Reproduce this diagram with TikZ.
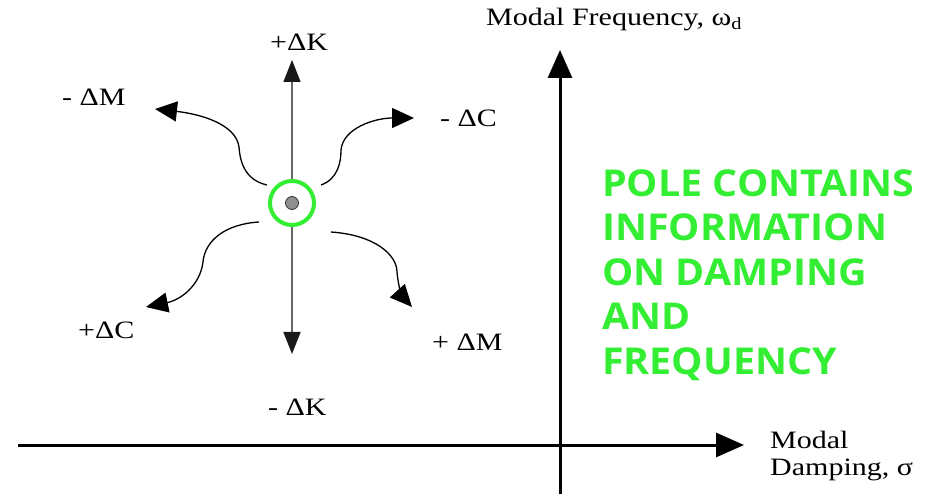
\documentclass[tikz,border=0pt]{standalone}
\usepackage{fontspec}
\setmainfont{Liberation Serif}
\newfontfamily\greenfont{Open Sans}
\usetikzlibrary{arrows.meta}
\definecolor{poleGreen}{HTML}{33EE33}
\definecolor{dotGray}{HTML}{909090}
\newcommand{\wtxt}[1]{\scalebox{1.2}[1]{#1}}
\newcommand{\gtxt}[1]{\scalebox{1.065}[1]{#1}}
\tikzset{
  lbl/.style={font=\fontsize{25}{28}\selectfont, inner sep=0pt, anchor=west},
  curvearrow/.style={line width=1.3pt, -{Triangle[length=22pt,width=20pt]}},
  karrow/.style={line width=1.6pt, draw=black!60, -{Triangle[length=22pt,width=17pt,color=black!90]}},
  axis/.style={line width=3pt, -{Triangle[length=28pt,width=24pt]}}
}
\begin{document}
\begin{tikzpicture}[x=1pt,y=-1pt]
\useasboundingbox (0,0) rectangle (927,494);
% axes
\coordinate (hstart) at (18,445);
\coordinate (hend) at (744,445);
\coordinate (vstart) at (560,494);
\coordinate (vend) at (560,50);
\draw[axis] (hstart) -- (hend);
\draw[axis] (vstart) -- (vend);
% pole
\node[circle, draw=poleGreen, line width=4pt, minimum size=44pt, inner sep=0pt] (ring) at (292,203) {};
\node[circle, draw=black!80, fill=dotGray, line width=0.8pt, minimum size=13pt, inner sep=0pt] (pole) at (292,203) {};
% labels
\node[lbl] (pk) at (270,42) {\wtxt{+ΔK}};
\node[lbl] (mk) at (268,407) {\wtxt{- ΔK}};
\node[lbl] (mm) at (62,97) {\wtxt{- ΔM}};
\node[lbl] (mc) at (440,118) {\wtxt{- ΔC}};
\node[lbl] (pc) at (78,330) {\wtxt{+ΔC}};
\node[lbl] (pm) at (432,342) {\wtxt{+ ΔM}};
\node[lbl] (freq) at (486,20) {\wtxt{Modal Frequency, ω\raisebox{-0.3ex}{\fontsize{17}{17}\selectfont d}}};
\node[lbl] (damp1) at (770,440) {\wtxt{Modal}};
\node[lbl] (damp2) at (770,470) {\wtxt{Damping, σ}};
% coordinates for arrow ends
\coordinate (kup) at (292,60);
\coordinate (kdown) at (292,354);
\draw[karrow] (ring.north) -- (kup);
\draw[karrow] (ring.south) -- (kdown);
\coordinate (s1) at (267,185);
\coordinate (e1) at (155,109);
\draw[curvearrow] (s1) .. controls (245,180) and (240,162) .. (239,147) .. controls (236,124) and (200,114) .. (e1);
\coordinate (s2) at (321,185);
\coordinate (e2) at (414,118);
\draw[curvearrow] (s2) .. controls (338,179) and (341,162) .. (341,150) .. controls (343,128) and (375,118) .. (e2);
\coordinate (s3) at (259,222);
\coordinate (e3) at (146,307);
\draw[curvearrow] (s3) .. controls (226,224) and (205,240) .. (203,262) .. controls (200,286) and (180,300) .. (e3);
\coordinate (s4) at (331,232);
\coordinate (e4) at (412,307);
\draw[curvearrow] (s4) .. controls (375,235) and (397,255) .. (397,272) .. controls (398,286) and (403,297) .. (e4);
% green text
\node[anchor=north west, align=left, inner sep=0pt, text=poleGreen,
      font=\greenfont\bfseries\fontsize{37}{44.5}\selectfont] (info) at (602,169)
  {\gtxt{POLE CONTAINS}\\\gtxt{INFORMATION}\\\gtxt{ON DAMPING}\\\gtxt{AND}\\\gtxt{FREQUENCY}};
\end{tikzpicture}
\end{document}
